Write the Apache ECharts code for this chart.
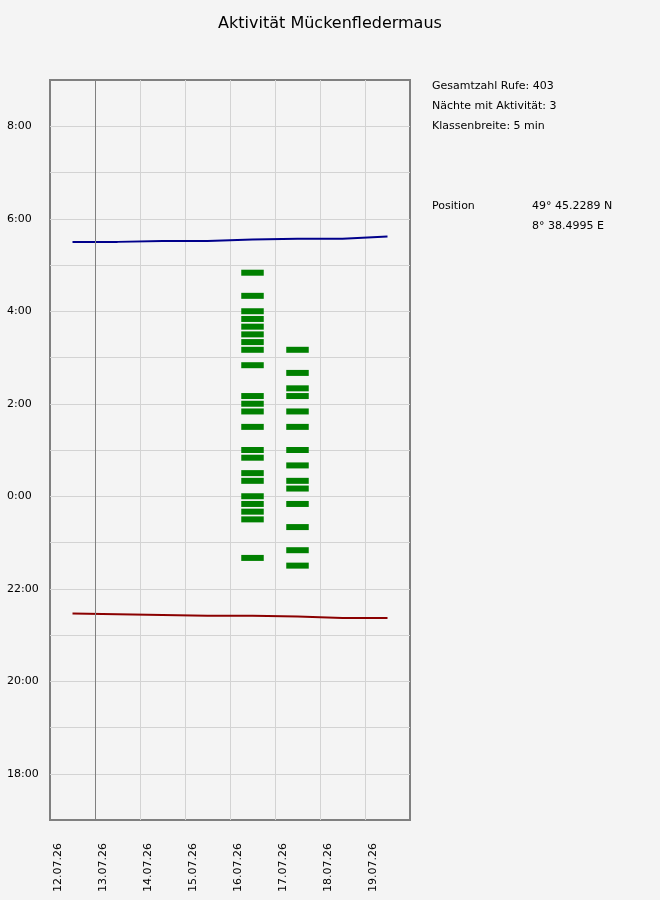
<!DOCTYPE html>
<html>
<head>
<meta charset="utf-8">
<script src="https://cdn.jsdelivr.net/npm/echarts@6/dist/echarts.min.js"></script>
<style>
body{margin:0;background:#f4f4f4;}
#chart{width:660px;height:900px;}
</style>
</head>
<body>
<div id="chart"></div>
<script>
//日期标签 (x轴, 每天一个刻度)
let dateLabels=['12.07.26','13.07.26','14.07.26','15.07.26','16.07.26','17.07.26','18.07.26','19.07.26'];
//日出/日落 (每晚中间位置)
let sunrise=['5:30','5:30','5:31','5:31','5:33','5:34','5:34','5:37'];
let sunset=['21:28','21:27','21:26','21:25','21:25','21:24','21:22','21:22'];
//活动记录: 夜晚序号 + 时间
let night4=['4:50','4:20','4:00','3:50','3:40','3:30','3:20','3:10','2:50','2:10','2:00','1:50','1:30','1:00','0:50','0:30','0:20','0:00','23:50','23:40','23:30','22:40'];
let night5=['3:10','2:40','2:20','2:10','1:50','1:30','1:00','0:40','0:20','0:10','23:50','23:20','22:50','22:30'];
let infoLines=['Gesamtzahl Rufe: 403','Nächte mit Aktivität: 3','Klassenbreite: 5 min'];
let position=['49° 45.2289 N','8° 38.4995 E'];

let font='DejaVu Sans';

/**时间字符串 -> 相对午夜的小时数*/
function toHours(s){
	let p=s.split(':');
	let h=parseInt(p[0])+parseInt(p[1])/60;
	if(h>12){
		h-=24;
	}
	return h;
}
function lineData(arr){
	return arr.map(function(s,i){return [i+0.5,toHours(s)];});
}
let bars=[];
night4.forEach(function(s){bars.push([4,toHours(s)]);});
night5.forEach(function(s){bars.push([5,toHours(s)]);});

function renderBar(params,api){
	let x=api.value(0),t=api.value(1);
	let p0=api.coord([x+0.25,t]);
	let p1=api.coord([x+0.75,t]);
	return {
		type:'rect',
		shape:{x:p0[0],y:p0[1]-3,width:p1[0]-p0[0],height:6},
		style:{fill:'#008000'}
	};
}

let chart=echarts.init(document.getElementById('chart'));
let graphic=[];
infoLines.forEach(function(s,i){
	graphic.push({type:'text',left:432,top:81+i*20,style:{text:s,font:'11px '+font,fill:'#000'}});
});
graphic.push({type:'text',left:432,top:201,style:{text:'Position',font:'11px '+font,fill:'#000'}});
position.forEach(function(s,i){
	graphic.push({type:'text',left:532,top:201+i*20,style:{text:s,font:'11px '+font,fill:'#000'}});
});

let option={
	backgroundColor:'#f4f4f4',
	animation:false,
	title:{
		text:'Aktivität Mückenfledermaus',
		left:'center',
		top:11,
		textStyle:{fontFamily:font,fontSize:16,fontWeight:'normal',color:'#000'}
	},
	grid:{left:50,right:250,top:80,bottom:80,outerBoundsMode:'none',show:true,borderColor:'#808080',borderWidth:2,backgroundColor:'#f4f4f4'},
	xAxis:{
		type:'value',
		min:0,
		max:8,
		interval:1,
		axisLine:{show:false},
		axisTick:{show:false},
		splitLine:{showMinLine:false,showMaxLine:false,lineStyle:{color:'#d3d3d3',width:1}},
		axisLabel:{
			rotate:90,
			margin:23,
			verticalAlign:'top',
			padding:[3,0,0,0],
			fontFamily:font,
			fontSize:11,
			color:'#000',
			formatter:function(v){
				return dateLabels[v]||'';
			}
		}
	},
	yAxis:{
		type:'value',
		min:-7,
		max:9,
		interval:1,
		axisLine:{show:false},
		axisTick:{show:false},
		splitLine:{showMinLine:false,showMaxLine:false,lineStyle:{color:'#d3d3d3',width:1}},
		axisLabel:{
			margin:43,
			align:'left',
			fontFamily:font,
			fontSize:11,
			color:'#000',
			showMaxLabel:false,
			formatter:function(v){
				if(v%2!=0){
					return '';
				}
				return ((v+24)%24)+':00';
			}
		}
	},
	graphic:graphic,
	series:[
		{
			type:'line',
			data:lineData(sunrise),
			symbol:'none',
			lineStyle:{color:'#00008b',width:2},
			markLine:{
				silent:true,
				symbol:'none',
				label:{show:false},
				lineStyle:{color:'#808080',width:1,type:'solid'},
				data:[{xAxis:1}]
			}
		},
		{
			type:'line',
			data:lineData(sunset),
			symbol:'none',
			lineStyle:{color:'#8b0000',width:2}
		},
		{
			type:'custom',
			renderItem:renderBar,
			data:bars
		}
	]
};
chart.setOption(option);
</script>
</body>
</html>
